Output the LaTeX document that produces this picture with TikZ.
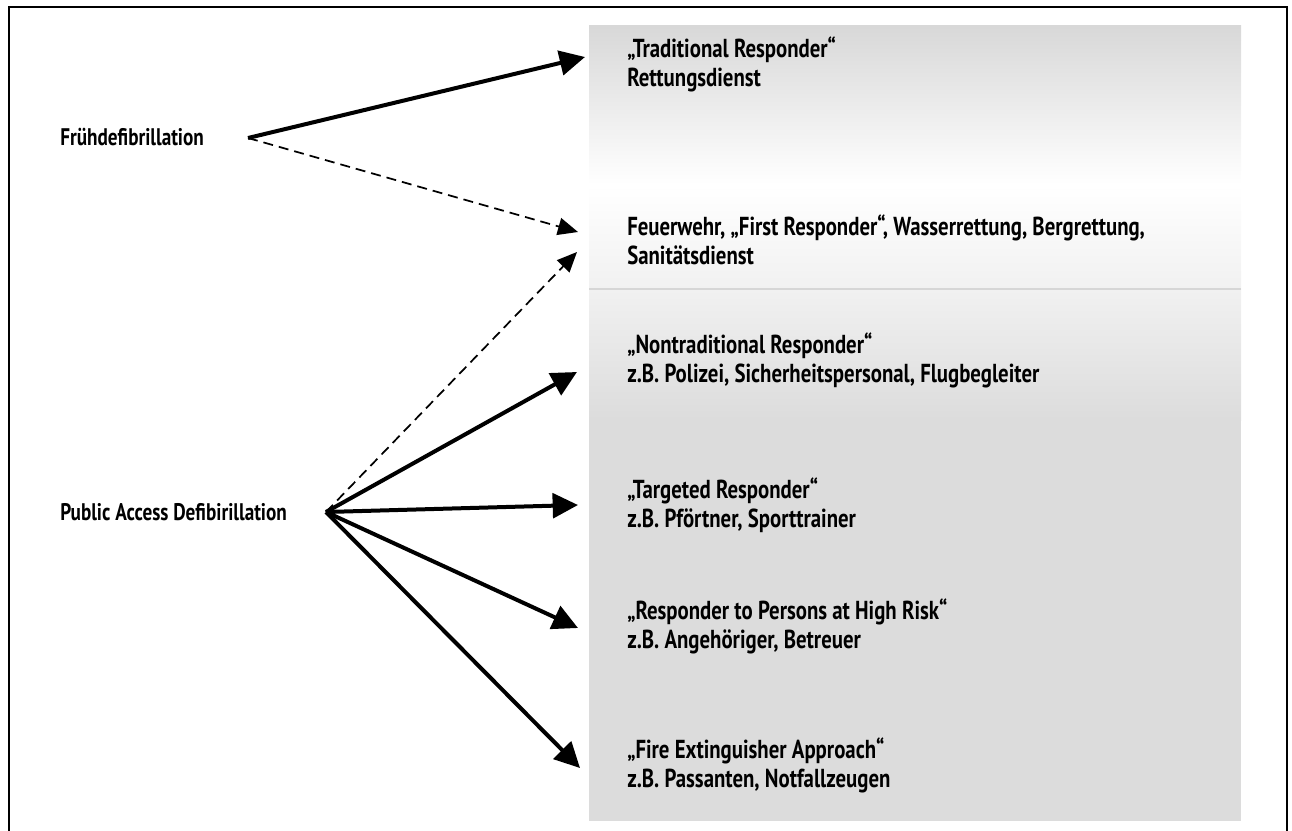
\documentclass[tikz,border=0pt]{standalone}
\usepackage{fontspec}
\setmainfont{PT Sans}[FakeStretch=0.8]
\usetikzlibrary{arrows.meta}
\definecolor{boxtop}{HTML}{D8D8D8}
\definecolor{boxlight}{HTML}{F1F1F1}
\definecolor{boxgray}{HTML}{DCDCDC}
\definecolor{boxrule}{HTML}{D6D6D6}
\begin{document}
\begin{tikzpicture}[
x=0.75pt,y=-0.75pt,
every node/.style={font=\bfseries\fontsize{19.5}{21.75}\selectfont,align=left,inner sep=0pt,anchor=west},
sidelabel/.style={font=\bfseries\fontsize{18}{21.75}\selectfont},
solidarrow/.style={-{Triangle[length=19pt,width=18.5pt]},line width=3pt},
dashedarrow/.style={-{Triangle[length=15pt,width=13pt]},line width=1.3pt,dash pattern=on 7.5pt off 4.5pt}
]
\useasboundingbox (0,0) rectangle (1292,831);
% frame, open at the bottom
\draw[line width=1.7pt] (9,831) -- (9,7) -- (1287,7) -- (1287,831);
% grey panel
\fill[top color=boxtop,bottom color=white] (589,26) rectangle (1241,185);
\fill[top color=white,bottom color=boxlight] (589,185) rectangle (1241,289);
\fill[top color=boxlight,bottom color=boxgray] (589,289) rectangle (1241,420);
\fill[boxgray] (589,420) rectangle (1241,821);
\draw[boxrule,line width=0.8pt] (589,289) -- (1241,289);

\node(fruh)[sidelabel] at (60,137) {Frühdefibrillation};
\node(pad)[sidelabel] at (60,512) {Public Access Defibirillation};

\node(trad) at (627,64) {„Traditional Responder“\\Rettungsdienst};
\node(first) at (627,240) {Feuerwehr, „First Responder“, Wasserrettung, Bergrettung,\\Sanitätsdienst};
\node(nontrad) at (627,360) {„Nontraditional Responder“\\z.B. Polizei, Sicherheitspersonal, Flugbegleiter};
\node(target) at (627,505) {„Targeted Responder“\\z.B. Pförtner, Sporttrainer};
\node(risk) at (627,626) {„Responder to Persons at High Risk“\\z.B. Angehöriger, Betreuer};
\node(fire) at (627,765) {„Fire Extinguisher Approach“\\z.B. Passanten, Notfallzeugen};

\coordinate(fruhout) at (248,138);
\coordinate(padout) at (326,512);
\coordinate(tradin) at (585,57);
\coordinate(firstin1) at (578,232);
\coordinate(firstin2) at (577,252);
\coordinate(nontradin) at (577,372);
\coordinate(targetin) at (578,505);
\coordinate(riskin) at (578,628);
\coordinate(firein) at (580,768);

\draw[solidarrow] (fruhout) -- (tradin);
\draw[dashedarrow] (fruhout) -- (firstin1);
\draw[dashedarrow] (padout) -- (firstin2);
\draw[solidarrow] (padout) -- (nontradin);
\draw[solidarrow] (padout) -- (targetin);
\draw[solidarrow] (padout) -- (riskin);
\draw[solidarrow] (padout) -- (firein);
\end{tikzpicture}
\end{document}
